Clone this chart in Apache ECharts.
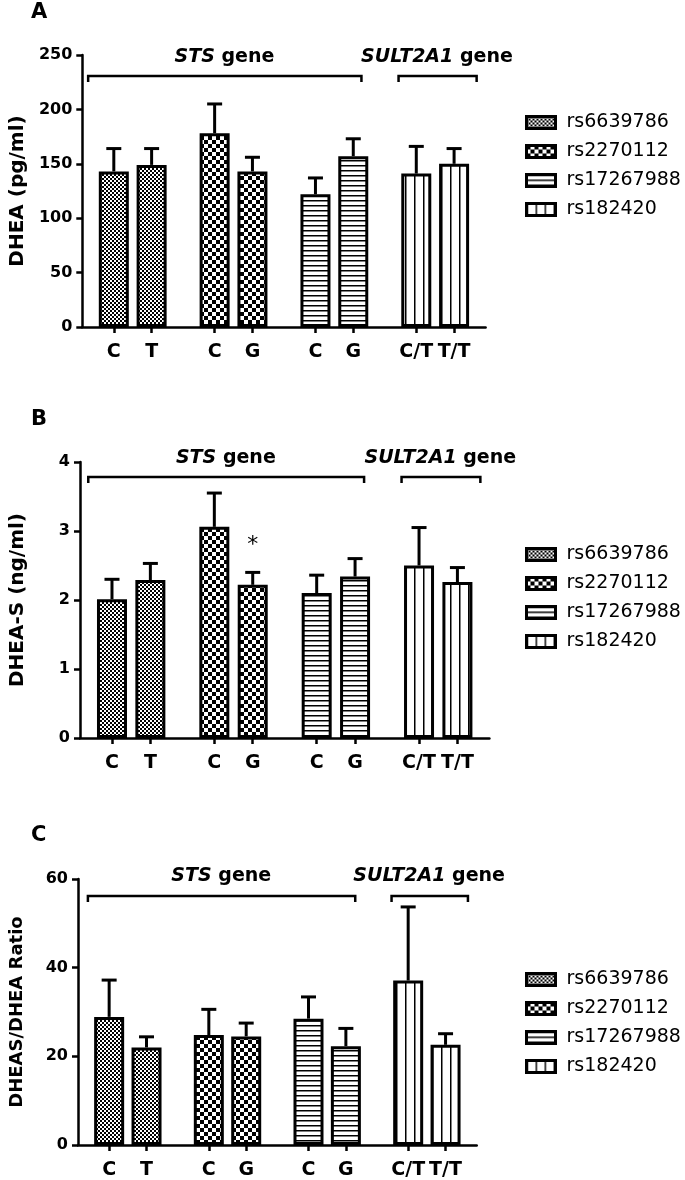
<!DOCTYPE html>
<html>
<head>
<meta charset="utf-8">
<script src="https://cdn.jsdelivr.net/npm/echarts@6/dist/echarts.min.js"></script>
<style>
  html, body { margin: 0; padding: 0; background: #fff; }
  #chart { width: 685px; height: 1180px; }
</style>
</head>
<body>
<div id="chart"></div>
<script>
// genotype groups, in the order they sit on the x axis
var genotypes = ['C', 'T', 'C', 'G', 'C', 'G', 'C/T', 'T/T'];
var snpNames = ['rs6639786', 'rs2270112', 'rs17267988', 'rs182420'];

// mean and SEM (upper whisker only)
var dheaMean  = [143, 149, 178, 143, 122, 157, 141, 150];
var dheaSem   = [21, 15, 27, 13, 15, 16, 25, 14];
var dheasMean = [2.01, 2.29, 3.06, 2.22, 2.10, 2.34, 2.50, 2.26];
var dheasSem  = [0.29, 0.24, 0.49, 0.18, 0.26, 0.26, 0.55, 0.21];
var ratioMean = [28.9, 22.0, 24.8, 24.5, 28.5, 22.3, 37.1, 22.6];
var ratioSem  = [8.3, 2.4, 5.8, 3.0, 4.9, 4.0, 16.6, 2.5];
var dheasSig  = ['', '', '', '*', '', '', '', ''];

var FONT = 'DejaVu Sans';
var SLOTS = 65;

// bars sit on a fine category grid: pairs 6 slots apart, groups 10 apart
function slotOf(i) { return 5 + i * 6 + Math.floor(i / 2) * 4; }
var slots = [];
for (var k = 0; k < SLOTS; k++) slots.push('');
genotypes.forEach(function (g, i) { slots[slotOf(i)] = g; });

function makePattern(kind) {
  var c = document.createElement('canvas');
  var sz = [4, 8, 5, 9][kind];
  c.width = sz; c.height = sz;
  var ctx = c.getContext('2d');
  ctx.fillStyle = '#fff';
  ctx.fillRect(0, 0, sz, sz);
  ctx.fillStyle = '#000';
  if (kind === 0) {
    ctx.fillRect(0, 0, 2, 2); ctx.fillRect(2, 2, 2, 2);
  } else if (kind === 1) {
    ctx.fillRect(0, 0, 4, 4); ctx.fillRect(4, 4, 4, 4);
  } else if (kind === 2) {
    ctx.fillRect(0, 0, sz, 1.5);
  } else {
    ctx.fillRect(0, 0, 1.5, sz);
  }
  return { image: c, repeat: 'repeat' };
}
var patterns = [0, 1, 2, 3].map(makePattern);

var panels = [
  { label: 'A', left: 76, top: 55, width: 409.6, height: 272, max: 250, interval: 50,
    name: 'DHEA (pg/ml)', nameSize: 20, mean: dheaMean, sem: dheaSem, sig: null,
    labelY: 13, bracketY: 76, geneY: 57, legendTop: 108 },
  { label: 'B', left: 76, top: 462, width: 413.4, height: 276, max: 4, interval: 1,
    name: 'DHEA-S (ng/ml)', nameSize: 20, mean: dheasMean, sem: dheasSem, sig: dheasSig,
    labelY: 420, bracketY: 477, geneY: 458, legendTop: 540 },
  { label: 'C', left: 76, top: 879, width: 400.7, height: 267, max: 60, interval: 20,
    name: 'DHEAS/DHEA Ratio', nameSize: 18, mean: ratioMean, sem: ratioSem, sig: null,
    labelY: 836, bracketY: 896, geneY: 876, legendTop: 965 }
];

var grids = [], xAxes = [], yAxes = [], series = [], legends = [], graphics = [];

panels.forEach(function (p, pi) {
  grids.push({ left: p.left, top: p.top, width: p.width, height: p.height });
  xAxes.push({
    type: 'category', gridIndex: pi, data: slots, boundaryGap: false,
    axisLine: { lineStyle: { color: '#000', width: 2.5 } },
    axisTick: { length: 6, lineStyle: { color: '#000', width: 2.5 },
      interval: function (i, v) { return v !== ''; } },
    axisLabel: { color: '#000', fontFamily: FONT, fontWeight: 'bold', fontSize: 19, margin: 16,
      interval: function (i, v) { return v !== ''; } }
  });
  yAxes.push({
    type: 'value', gridIndex: pi, min: 0, max: p.max, interval: p.interval,
    name: p.name, nameLocation: 'middle', nameRotate: 90, nameGap: 52,
    nameTextStyle: { color: '#000', fontFamily: FONT, fontWeight: 'bold', fontSize: p.nameSize },
    splitLine: { show: false },
    axisLine: { show: true, lineStyle: { color: '#000', width: 2.5 } },
    axisTick: { show: true, length: 6, lineStyle: { color: '#000', width: 2.5 } },
    axisLabel: { color: '#000', fontFamily: FONT, fontWeight: 'bold', fontSize: 16, margin: 10 }
  });

  snpNames.forEach(function (nm, s) {
    var d = slots.map(function () { return '-'; });
    genotypes.forEach(function (g, i) {
      if (Math.floor(i / 2) === s) d[slotOf(i)] = p.mean[i];
    });
    series.push({
      type: 'bar', name: nm, xAxisIndex: pi, yAxisIndex: pi, data: d,
      barWidth: 30, barGap: '-100%', silent: true,
      itemStyle: { color: patterns[s], borderColor: '#000', borderWidth: 3 }
    });
  });

  var sig = p.sig;
  series.push({
    type: 'custom', xAxisIndex: pi, yAxisIndex: pi, silent: true, z: 5,
    data: genotypes.map(function (g, i) { return [slotOf(i), p.mean[i], p.sem[i]]; }),
    renderItem: function (params, api) {
      var x = api.value(0), m = api.value(1), e = api.value(2);
      var b = api.coord([x, m]);
      var t = api.coord([x, m + e]);
      var st = { stroke: '#000', lineWidth: 3 };
      var ch = [
        { type: 'line', shape: { x1: b[0], y1: b[1], x2: t[0], y2: t[1] }, style: st },
        { type: 'line', shape: { x1: t[0] - 7.5, y1: t[1], x2: t[0] + 7.5, y2: t[1] }, style: st }
      ];
      if (sig && sig[params.dataIndex]) {
        ch.push({ type: 'text', x: t[0], y: t[1] - 27,
          style: { text: sig[params.dataIndex], fill: '#000', font: '22px ' + FONT,
            align: 'center', verticalAlign: 'middle' } });
      }
      return { type: 'group', children: ch };
    }
  });

  legends.push({
    data: snpNames, orient: 'vertical', left: 520, top: p.legendTop,
    icon: 'rect', itemWidth: 29, itemHeight: 12, itemGap: 10, selectedMode: false,
    itemStyle: { borderColor: '#000', borderWidth: 3 },
    textStyle: { color: '#000', fontFamily: FONT, fontSize: 19, padding: [0, 0, 0, 6] }
  });

  // panel letter, gene brackets and titles
  var w = p.width / (SLOTS - 1);
  function sx(slot) { return p.left + slot * w; }
  graphics.push({ type: 'text', x: 31, y: p.labelY,
    style: { text: p.label, fill: '#000', font: 'bold 21px ' + FONT, align: 'left', verticalAlign: 'middle' } });
  [[1.9, 44.6, 23.2, '{i|STS} gene'], [50.4, 62.6, 56.4, '{i|SULT2A1} gene']].forEach(function (br) {
    var x1 = sx(br[0]), x2 = sx(br[1]), y = p.bracketY;
    graphics.push({ type: 'polyline',
      shape: { points: [[x1, y + 6], [x1, y], [x2, y], [x2, y + 6]] },
      style: { stroke: '#000', lineWidth: 2.5, fill: null } });
    graphics.push({ type: 'text', x: sx(br[2]), y: p.geneY,
      style: { text: br[3], fill: '#000', font: 'bold 19px ' + FONT, align: 'center', verticalAlign: 'middle',
        rich: { i: { fontStyle: 'italic', fontWeight: 'bold', fontSize: 19, fontFamily: FONT, fill: '#000' } } } });
  });
});

var chart = echarts.init(document.getElementById('chart'), null, { renderer: 'canvas' });
chart.setOption({
  backgroundColor: '#fff',
  animation: false,
  grid: grids,
  xAxis: xAxes,
  yAxis: yAxes,
  legend: legends,
  series: series,
  graphic: graphics
});
</script>
</body>
</html>
